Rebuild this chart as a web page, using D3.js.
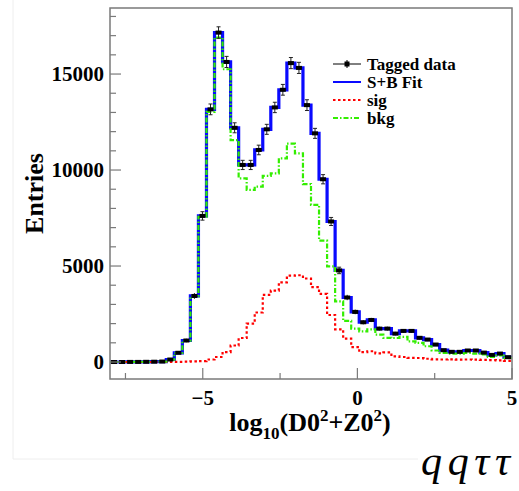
<!DOCTYPE html>
<html>
<head>
<meta charset="utf-8">
<script src="https://cdn.jsdelivr.net/npm/d3@7"></script>
<style>
  body { margin: 0; background: #fff; }
  svg { display: block; }
</style>
</head>
<body>
<div id="chart"></div>
<script>
// histogram binning
const binLow = -8, binHigh = 5, nBins = 50;

// tagged data (points) and their errors
const dataCounts = [0, 0, 5, 5, 10, 15, 25, 130, 480, 1120, 3440, 7610, 13160, 17160, 15630,
  12200, 10265, 10265, 11045, 12120, 13260, 14180, 15570, 15320, 13380, 11910, 9520, 7320, 4770, 3360,
  2610, 2070, 2190, 1740, 1740, 1480, 1620, 1620, 1260, 1170, 910, 615, 530, 530, 600,
  600, 490, 370, 440, 250];
const dataErrors = [0, 0, 5, 5, 8, 10, 15, 30, 60, 90, 150, 220, 280, 300, 290,
  260, 240, 240, 250, 260, 270, 280, 290, 290, 280, 260, 240, 210, 170, 140,
  120, 110, 110, 100, 100, 90, 95, 95, 85, 80, 70, 60, 55, 55, 60,
  60, 55, 45, 50, 40];

// S+B fit
const fitCounts = [0, 0, 5, 5, 10, 15, 25, 130, 480, 1120, 3440, 7610, 13160, 17160, 15630,
  12200, 10265, 10265, 11045, 12120, 13260, 14180, 15570, 15320, 13380, 11910, 9520, 7320, 4770, 3360,
  2610, 2070, 2190, 1740, 1740, 1480, 1620, 1620, 1260, 1170, 910, 615, 530, 530, 600,
  600, 490, 370, 440, 250];

// signal component
const sigCounts = [0, 0, 0, 0, 0, 0, 0, 5, 10, 15, 30, 50, 130, 260, 520,
  860, 1250, 2000, 2580, 3500, 3720, 4150, 4500, 4520, 4350, 3900, 3550, 2450, 1700, 1220,
  780, 520, 560, 450, 500, 290, 260, 215, 210, 170, 140, 130, 140, 120, 130,
  120, 110, 100, 90, 60];

// background component
const bkgCounts = [0, 0, 5, 5, 10, 15, 25, 125, 470, 1100, 3420, 7560, 13030, 16900, 15250,
  11560, 9570, 8970, 9140, 9700, 9830, 10610, 11380, 10870, 9270, 8190, 6320, 4980, 3160, 2140,
  1740, 1600, 1700, 1430, 1260, 1250, 1310, 1080, 1000, 820, 600, 480, 440, 440, 470,
  440, 390, 270, 340, 215];

const xTickLabels = [-5, 0, 5];
const xMinorTicks = [-7.5, -2.5, 2.5];
const yTickLabels = [0, 5000, 10000, 15000];
const legendLabels = ['Tagged data', 'S+B Fit', 'sig', 'bkg'];

const width = 519, height = 491;
const plot = { left: 110, right: 512, top: 8, bottom: 379 };
const serif = '"Liberation Serif", "Times New Roman", serif';

const svg = d3.select('#chart')
  .append('svg')
  .attr('width', width)
  .attr('height', height);

const x = d3.scaleLinear().domain([binLow, binHigh]).range([plot.left, plot.right]);
const y = d3.scaleLinear().domain([-885, 18440]).range([plot.bottom, plot.top]);

const binW = (binHigh - binLow) / nBins;
const edge = i => binLow + i * binW;

// faint canvas edge
svg.append('path')
  .attr('d', `M13,0 V459 H418`)
  .attr('fill', 'none')
  .attr('stroke', '#eeeeee')
  .attr('stroke-width', 1);

svg.append('clipPath').attr('id', 'clip')
  .append('rect')
  .attr('x', plot.left).attr('y', plot.top)
  .attr('width', plot.right - plot.left).attr('height', plot.bottom - plot.top);

const g = svg.append('g').attr('clip-path', 'url(#clip)');

// step outline of a histogram
const stepLine = d3.line()
  .x(d => x(d[0]))
  .y(d => y(d[1]))
  .curve(d3.curveStepAfter);

function stepPoints(counts) {
  const pts = counts.map((v, i) => [edge(i), v]);
  pts.push([edge(counts.length), counts[counts.length - 1]]);
  return pts;
}

g.append('path')
  .attr('d', stepLine(stepPoints(fitCounts)))
  .attr('fill', 'none')
  .attr('stroke', '#0a0aff')
  .attr('stroke-width', 3.2);

g.append('path')
  .attr('d', stepLine(stepPoints(sigCounts)))
  .attr('fill', 'none')
  .attr('stroke', '#ff0000')
  .attr('stroke-width', 2.2)
  .attr('stroke-dasharray', '2.5,2.5');

g.append('path')
  .attr('d', stepLine(stepPoints(bkgCounts)))
  .attr('fill', 'none')
  .attr('stroke', '#33ee00')
  .attr('stroke-width', 2.2)
  .attr('stroke-dasharray', '5,2,1.5,2');

// data points with error bars
const pts = g.selectAll('.pt')
  .data(dataCounts.map((v, i) => ({ x: edge(i) + binW / 2, v: v, e: dataErrors[i] })))
  .enter()
  .append('g')
  .attr('class', 'pt');

pts.append('line')
  .attr('x1', d => x(d.x)).attr('x2', d => x(d.x))
  .attr('y1', d => y(d.v - d.e)).attr('y2', d => y(d.v + d.e))
  .attr('stroke', '#222').attr('stroke-width', 1);

pts.filter(d => d.e > 150).each(function(d) {
  const s = d3.select(this);
  [d.v - d.e, d.v + d.e].forEach(val => {
    s.append('line')
      .attr('x1', x(d.x) - 2).attr('x2', x(d.x) + 2)
      .attr('y1', y(val)).attr('y2', y(val))
      .attr('stroke', '#222').attr('stroke-width', 1);
  });
});

pts.append('rect')
  .attr('x', d => x(d.x) - 3)
  .attr('y', d => y(d.v) - 2)
  .attr('width', 6)
  .attr('height', 4)
  .attr('fill', '#000');

// frame
svg.append('rect')
  .attr('x', plot.left).attr('y', plot.top)
  .attr('width', plot.right - plot.left).attr('height', plot.bottom - plot.top)
  .attr('fill', 'none')
  .attr('stroke', '#7a7a7a')
  .attr('stroke-width', 1.5);

// y ticks (inside the frame)
const yMinor = d3.range(0, 18001, 1000);
svg.selectAll('.ytick')
  .data(yMinor)
  .enter()
  .append('line')
  .attr('x1', plot.left)
  .attr('x2', d => plot.left + (d % 5000 === 0 ? 11 : 6))
  .attr('y1', d => y(d)).attr('y2', d => y(d))
  .attr('stroke', '#7a7a7a').attr('stroke-width', 1.2);

svg.selectAll('.ylab')
  .data(yTickLabels)
  .enter()
  .append('text')
  .attr('x', 104)
  .attr('y', d => y(d))
  .attr('dy', '0.35em')
  .attr('text-anchor', 'end')
  .style('font-family', serif)
  .style('font-weight', 'bold')
  .style('font-size', '21px')
  .text(d => d);

// x ticks
svg.selectAll('.xtick')
  .data(xTickLabels.map(v => [v, 11]).concat(xMinorTicks.map(v => [v, 6])))
  .enter()
  .append('line')
  .attr('x1', d => x(d[0])).attr('x2', d => x(d[0]))
  .attr('y1', plot.bottom).attr('y2', d => plot.bottom - d[1])
  .attr('stroke', '#7a7a7a').attr('stroke-width', 1.2);

svg.selectAll('.xlab')
  .data(xTickLabels)
  .enter()
  .append('text')
  .attr('x', d => x(d))
  .attr('y', 405)
  .attr('text-anchor', 'middle')
  .style('font-family', serif)
  .style('font-weight', 'bold')
  .style('font-size', '21px')
  .text(d => d < 0 ? '\u2212' + Math.abs(d) : d);

// axis titles
svg.append('text')
  .attr('transform', `translate(43, ${(plot.top + plot.bottom) / 2}) rotate(-90)`)
  .attr('text-anchor', 'middle')
  .style('font-family', serif)
  .style('font-weight', 'bold')
  .style('font-size', '26px')
  .text('Entries');

const xt = svg.append('text')
  .attr('x', 310)
  .attr('y', 431)
  .attr('text-anchor', 'middle')
  .style('font-family', serif)
  .style('font-weight', 'bold')
  .style('font-size', '26px');
xt.append('tspan').text('log');
xt.append('tspan').attr('dy', 8).style('font-size', '17px').text('10');
xt.append('tspan').attr('dy', -8).text('(D0');
xt.append('tspan').attr('dy', -10).style('font-size', '17px').text('2');
xt.append('tspan').attr('dy', 10).text('+Z0');
xt.append('tspan').attr('dy', -10).style('font-size', '17px').text('2');
xt.append('tspan').attr('dy', 10).text(')');

svg.append('text')
  .attr('x', 421)
  .attr('y', 475)
  .attr('textLength', 89)
  .attr('lengthAdjust', 'spacing')
  .style('font-family', serif)
  .style('font-style', 'italic')
  .style('font-size', '42px')
  .text('qq\u03c4\u03c4');

// legend
const legend = svg.append('g');
const rowY = [64, 82, 100, 118];
const lx1 = 333, lx2 = 361;

legend.append('line')
  .attr('x1', lx1).attr('x2', lx2).attr('y1', rowY[0]).attr('y2', rowY[0])
  .attr('stroke', '#000').attr('stroke-width', 1);
legend.append('line')
  .attr('x1', (lx1 + lx2) / 2).attr('x2', (lx1 + lx2) / 2)
  .attr('y1', rowY[0] - 4).attr('y2', rowY[0] + 4)
  .attr('stroke', '#000').attr('stroke-width', 1);
legend.append('rect')
  .attr('x', (lx1 + lx2) / 2 - 2.5).attr('y', rowY[0] - 2.5)
  .attr('width', 5).attr('height', 5).attr('fill', '#000');

legend.append('line')
  .attr('x1', lx1).attr('x2', lx2).attr('y1', rowY[1]).attr('y2', rowY[1])
  .attr('stroke', '#0a0aff').attr('stroke-width', 2);
legend.append('line')
  .attr('x1', lx1).attr('x2', lx2).attr('y1', rowY[2]).attr('y2', rowY[2])
  .attr('stroke', '#ff0000').attr('stroke-width', 2)
  .attr('stroke-dasharray', '2.5,2.5');
legend.append('line')
  .attr('x1', lx1).attr('x2', lx2).attr('y1', rowY[3]).attr('y2', rowY[3])
  .attr('stroke', '#33ee00').attr('stroke-width', 2)
  .attr('stroke-dasharray', '5,2,1.5,2');

legend.selectAll('.ltext')
  .data(legendLabels)
  .enter()
  .append('text')
  .attr('x', 367)
  .attr('y', (d, i) => rowY[i])
  .attr('dy', '0.33em')
  .style('font-family', serif)
  .style('font-weight', 'bold')
  .style('font-size', '17px')
  .text(d => d);
</script>
</body>
</html>
